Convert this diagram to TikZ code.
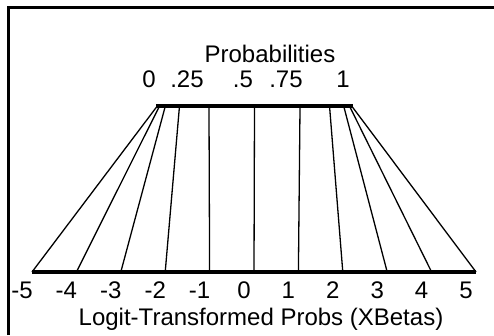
\documentclass[tikz,border=0pt]{standalone}
\usepackage{fontspec}
\setmainfont{Liberation Sans}
\usetikzlibrary{calc}
\definecolor{PlotInk}{HTML}{000000}
\tikzset{
  every node/.style={font=\fontsize{24}{26}\selectfont, text=PlotInk, inner sep=0pt},
  frame/.style={draw=PlotInk, line width=3pt},
  scaleaxis/.style={draw=PlotInk, line width=3.5pt},
  link/.style={draw=PlotInk, line width=1.3pt},
}

\begin{document}
\begin{tikzpicture}[x=1pt,y=-1pt]
  \useasboundingbox (0,0) rectangle (494,335);
  % Open frame, only top and left edges show
  \coordinate (frameTL) at (8,7);
  \coordinate (frameBL) at (8,335);
  \coordinate (frameTR) at (494,7);
  \draw[frame] (frameBL) -- (frameTL) -- (frameTR);
  % Ends of the two scales
  \coordinate (probL) at (156,106);
  \coordinate (probR) at (353,106);
  \coordinate (logitL) at (32,272);
  \coordinate (logitR) at (476,272);
  % Each logit value joined to its probability
  \foreach \v [count=\i] in {-5,...,5} {
    \pgfmathsetmacro{\lx}{32+(\v+5)*44.4}
    \pgfmathsetmacro{\px}{156+197/(1+exp(-(\v)))}
    \coordinate (lo\i) at (\lx,272);
    \coordinate (hi\i) at (\px,106);
    \draw[link] (lo\i) -- (hi\i);
    \node[anchor=base] (logitlab\i) at (\lx-10,298) {\v};
  }
  \draw[scaleaxis] (probL) -- (probR);
  \draw[scaleaxis] (logitL) -- (logitR);
  % Probability labels
  \foreach \t/\x [count=\i] in {0/149, .25/187, .5/243, .75/286, 1/343}
    \node[anchor=base] (problab\i) at (\x,87) {\t};
  % Titles
  \node[anchor=base] (probtitle) at (270,62) {Probabilities};
  \node[anchor=base] (logittitle) at (261,325) {Logit-Transformed Probs (XBetas)};
\end{tikzpicture}
\end{document}
